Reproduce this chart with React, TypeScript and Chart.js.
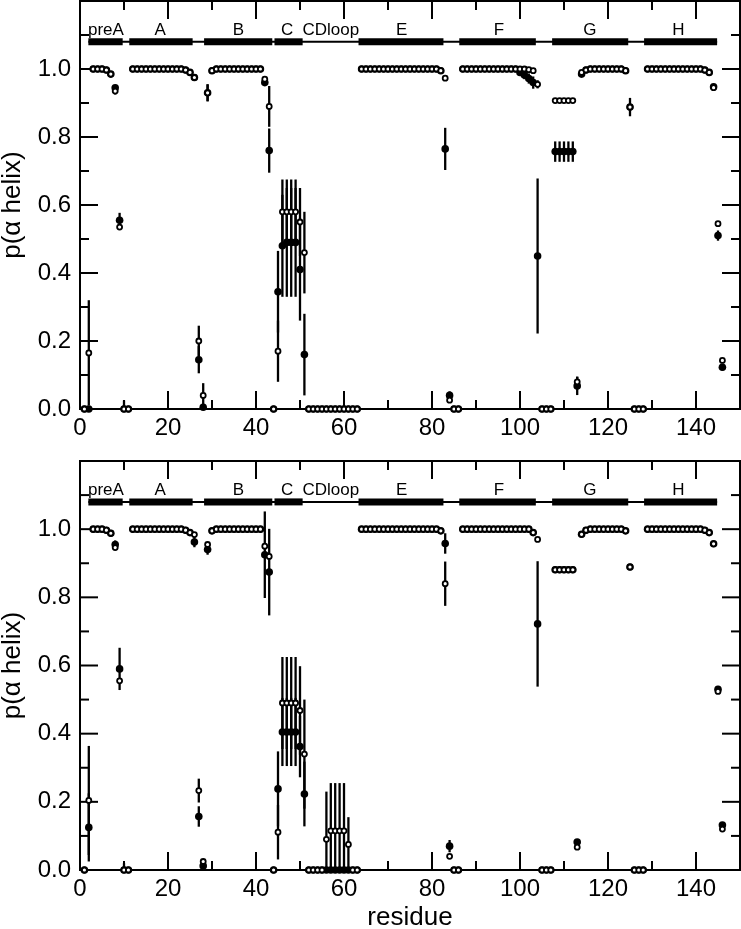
import { useEffect, useRef } from "react";
import { Chart, registerables } from "chart.js";

Chart.register(...registerables);

const FONT = "'Liberation Sans', Arial, Helvetica, sans-serif";

// residue numbers (categories)
const residues: number[] = Array.from({ length: 146 }, (_, i) => i + 1);

// ---------- top panel ----------
const topFilled: number[] = [
  0, 0, 1, 1, 1, 0.997, 0.985, 0.945, 0.555, 0,
  0, 1, 1, 1, 1, 1, 1, 1, 1, 1,
  1, 1, 1, 0.997, 0.99, 0.975, 0.145, 0.005, 0.93, 0.995,
  1, 1, 1, 1, 1, 1, 1, 1, 1, 1,
  1, 0.96, 0.76, 0, 0.345, 0.48, 0.49, 0.49, 0.49, 0.41,
  0.16, 0, 0, 0, 0, 0, 0, 0, 0, 0,
  0, 0, 0, 1, 1, 1, 1, 1, 1, 1,
  1, 1, 1, 1, 1, 1, 1, 1, 1, 1,
  1, 0.995, 0.765, 0.04, 0, 0, 1, 1, 1, 1,
  1, 1, 1, 1, 1, 1, 1, 1, 1, 0.99,
  0.982, 0.972, 0.96, 0.45, 0, 0, 0, 0.757, 0.757, 0.757,
  0.757, 0.757, 0.068, 0.985, 0.997, 1, 1, 1, 1, 1,
  1, 1, 1, 0.995, 0.888, 0, 0, 0, 1, 1,
  1, 1, 1, 1, 1, 1, 1, 1, 1, 1,
  1, 0.997, 0.99, 0.948, 0.51, 0.123,
];
const topOpen: number[] = [
  0, 0.165, 1, 1, 1, 0.997, 0.985, 0.935, 0.535, 0,
  0, 1, 1, 1, 1, 1, 1, 1, 1, 1,
  1, 1, 1, 0.997, 0.99, 0.975, 0.2, 0.04, 0.93, 0.995,
  1, 1, 1, 1, 1, 1, 1, 1, 1, 1,
  1, 0.97, 0.89, 0, 0.17, 0.58, 0.58, 0.58, 0.58, 0.55,
  0.46, 0, 0, 0, 0, 0, 0, 0, 0, 0,
  0, 0, 0, 1, 1, 1, 1, 1, 1, 1,
  1, 1, 1, 1, 1, 1, 1, 1, 1, 1,
  1, 0.995, 0.973, 0.026, 0, 0, 1, 1, 1, 1,
  1, 1, 1, 1, 1, 1, 1, 1, 1, 1,
  1, 0.998, 0.995, 0.955, 0, 0, 0, 0.907, 0.907, 0.907,
  0.907, 0.907, 0.08, 0.99, 0.997, 1, 1, 1, 1, 1,
  1, 1, 1, 0.995, 0.888, 0, 0, 0, 1, 1,
  1, 1, 1, 1, 1, 1, 1, 1, 1, 1,
  1, 0.997, 0.99, 0.945, 0.545, 0.143,
];
// [residue, error]
const topFilledErr: [number, number][] = [
  [9, 0.022], [10, 0.025], [27, 0.04], [29, 0.025], [43, 0.065], [45, 0.12],
  [46, 0.15], [47, 0.16], [48, 0.16], [49, 0.16], [50, 0.15], [51, 0.12],
  [83, 0.062], [84, 0.012], [100, 0.01], [101, 0.012], [102, 0.015], [103, 0.018],
  [104, 0.228], [108, 0.03], [109, 0.03], [110, 0.03], [111, 0.03], [112, 0.03],
  [113, 0.027], [145, 0.015], [146, 0.01],
];
const topOpenErr: [number, number][] = [
  [2, 0.155], [8, 0.01], [27, 0.045], [28, 0.036], [29, 0.025], [43, 0.06],
  [45, 0.09], [46, 0.095], [47, 0.095], [48, 0.095], [49, 0.095], [50, 0.1],
  [51, 0.12], [104, 0.012], [113, 0.015], [125, 0.027],
];

// ---------- bottom panel ----------
const botFilled: number[] = [
  0, 0.125, 1, 1, 1, 0.997, 0.988, 0.955, 0.59, 0,
  0, 1, 1, 1, 1, 1, 1, 1, 1, 1,
  1, 1, 1, 0.997, 0.99, 0.962, 0.157, 0.012, 0.94, 0.995,
  1, 1, 1, 1, 1, 1, 1, 1, 1, 1,
  1, 0.925, 0.874, 0, 0.238, 0.405, 0.405, 0.405, 0.405, 0.362,
  0.223, 0, 0, 0, 0, 0, 0, 0, 0, 0,
  0, 0, 0, 1, 1, 1, 1, 1, 1, 1,
  1, 1, 1, 1, 1, 1, 1, 1, 1, 1,
  1, 0.995, 0.958, 0.07, 0, 0, 1, 1, 1, 1,
  1, 1, 1, 1, 1, 1, 1, 1, 1, 1,
  1, 1, 0.99, 0.722, 0, 0, 0, 0.881, 0.881, 0.881,
  0.881, 0.881, 0.082, 0.985, 0.997, 1, 1, 1, 1, 1,
  1, 1, 1, 0.995, 0.889, 0, 0, 0, 1, 1,
  1, 1, 1, 1, 1, 1, 1, 1, 1, 1,
  1, 0.997, 0.99, 0.957, 0.53, 0.132,
];
const botOpen: number[] = [
  0, 0.204, 1, 1, 1, 0.997, 0.988, 0.946, 0.555, 0,
  0, 1, 1, 1, 1, 1, 1, 1, 1, 1,
  1, 1, 1, 0.997, 0.99, 0.984, 0.233, 0.025, 0.955, 0.995,
  1, 1, 1, 1, 1, 1, 1, 1, 1, 1,
  1, 0.95, 0.92, 0, 0.111, 0.49, 0.49, 0.49, 0.49, 0.468,
  0.34, 0, 0, 0, 0, 0.09, 0.115, 0.115, 0.115, 0.115,
  0.075, 0, 0, 1, 1, 1, 1, 1, 1, 1,
  1, 1, 1, 1, 1, 1, 1, 1, 1, 1,
  1, 0.995, 0.84, 0.04, 0, 0, 1, 1, 1, 1,
  1, 1, 1, 1, 1, 1, 1, 1, 1, 1,
  1, 1, 0.99, 0.97, 0, 0, 0, 0.881, 0.881, 0.881,
  0.881, 0.881, 0.067, 0.985, 0.997, 1, 1, 1, 1, 1,
  1, 1, 1, 0.995, 0.889, 0, 0, 0, 1, 1,
  1, 1, 1, 1, 1, 1, 1, 1, 1, 1,
  1, 0.997, 0.99, 0.957, 0.524, 0.12,
];
const botFilledErr: [number, number][] = [
  [2, 0.1], [8, 0.012], [9, 0.062], [10, 0.02], [26, 0.015], [27, 0.03], [29, 0.015],
  [42, 0.127], [43, 0.127], [45, 0.11], [46, 0.1], [47, 0.1], [48, 0.1], [49, 0.1],
  [50, 0.09], [51, 0.095], [83, 0.03], [84, 0.018], [104, 0.184], [145, 0.01],
];
const botOpenErr: [number, number][] = [
  [2, 0.16], [27, 0.035], [45, 0.08], [46, 0.135], [47, 0.135], [48, 0.135], [49, 0.135],
  [50, 0.13], [51, 0.16], [56, 0.14], [57, 0.14], [58, 0.14], [59, 0.14], [60, 0.14],
  [61, 0.08], [83, 0.065],
];

// secondary-structure segments [name, start, end] and label positions
const segments: [string, number, number][] = [
  ["preA", 1.9, 9.7], ["A", 11.2, 25.6], ["B", 28.2, 43.7], ["C", 44.2, 50.6],
  ["E", 63.3, 82.6], ["F", 86.2, 103.6], ["G", 107.3, 124.6], ["H", 128.2, 144.8],
];
const segmentLabels: [string, number][] = [
  ["preA", 5.9], ["A", 18.2], ["B", 36], ["C", 47.1], ["CDloop", 57],
  ["E", 73.1], ["F", 95.2], ["G", 115.9], ["H", 136],
];
const SEG_Y = 1.08;
const SEG_LABEL_Y = 1.1;
const X_MIN = 0, X_MAX = 150, X_STEP = 20, X_MINOR = 10;
const Y_MIN = 0, Y_MAX = 1.2, Y_STEP = 0.2, Y_MINOR = 0.1;

const decorPlugin = {
  id: "decor",
  beforeDatasetsDraw(chart: any) {
    const { ctx, chartArea: a, scales } = chart;
    const x = scales.x, y = scales.y;
    const line = (x1: number, y1: number, x2: number, y2: number) => {
      ctx.beginPath(); ctx.moveTo(x1, y1); ctx.lineTo(x2, y2); ctx.stroke();
    };
    ctx.save();
    ctx.strokeStyle = "#000";
    ctx.lineWidth = 2;
    ctx.lineCap = "butt";
    ctx.strokeRect(a.left, a.top, a.right - a.left, a.bottom - a.top);
    for (let k = 0; k * X_MINOR <= X_MAX; k++) {
      const v = k * X_MINOR;
      const px = x.getPixelForValue(v);
      const len = v % X_STEP === 0 ? 18 : 9;
      line(px, a.bottom, px, a.bottom - len);
      line(px, a.top, px, a.top + len);
    }
    for (let k = 0; k * Y_MINOR <= Y_MAX + 1e-9; k++) {
      const v = k * Y_MINOR;
      const py = y.getPixelForValue(v);
      const len = k % Math.round(Y_STEP / Y_MINOR) === 0 ? 18 : 9;
      line(a.left, py, a.left + len, py);
      line(a.right, py, a.right - len, py);
    }
    // error bars
    ctx.lineWidth = 2.3;
    chart.data.datasets.forEach((ds: any) => {
      if (!ds.errors) return;
      for (const [r, e] of ds.errors as [number, number][]) {
        const pt = ds.data[r - 1];
        const px = x.getPixelForValue(pt.x);
        const y1 = y.getPixelForValue(Math.max(Y_MIN, pt.y - e));
        const y2 = y.getPixelForValue(Math.min(Y_MAX, pt.y + e));
        line(px, y1, px, y2);
      }
    });
    ctx.restore();
  },
  afterDraw(chart: any) {
    const { ctx, scales } = chart;
    ctx.save();
    ctx.fillStyle = "#000";
    ctx.font = `17px ${FONT}`;
    ctx.textAlign = "center";
    ctx.textBaseline = "alphabetic";
    const py = scales.y.getPixelForValue(SEG_LABEL_Y);
    for (const [name, pos] of segmentLabels) {
      ctx.fillText(name, scales.x.getPixelForValue(pos), py);
    }
    ctx.restore();
  },
};

function buildConfig(
  filled: number[], open: number[],
  filledErr: [number, number][], openErr: [number, number][],
  padTop: number, xHeight: number, showTitle: boolean,
): any {
  const openData = residues.map((r, i) => ({ x: r, y: open[i] }));
  const filledData = residues.map((r, i) => ({ x: r, y: filled[i] }));
  const segDatasets = segments.map(([name, s, e]) => ({
    label: name,
    data: [{ x: s, y: SEG_Y }, { x: e, y: SEG_Y }],
    showLine: true,
    borderColor: "#000",
    borderWidth: 7,
    pointRadius: 0,
    order: 3,
  }));
  return {
    type: "scatter",
    data: {
      datasets: [
        {
          label: "open",
          data: openData,
          errors: openErr,
          pointRadius: 2.5,
          pointBorderWidth: 1.8,
          pointBackgroundColor: "#fff",
          pointBorderColor: "#000",
          clip: false,
          order: 0,
        },
        {
          label: "filled",
          data: filledData,
          errors: filledErr,
          pointRadius: 3.8,
          pointBorderWidth: 0,
          pointBackgroundColor: "#000",
          pointBorderColor: "#000",
          clip: false,
          order: 1,
        },
        {
          label: "backbone",
          data: [{ x: segments[0][1], y: SEG_Y }, { x: segments[segments.length - 1][2], y: SEG_Y }],
          showLine: true,
          borderColor: "#000",
          borderWidth: 2,
          pointRadius: 0,
          order: 4,
        },
        ...segDatasets,
      ],
    },
    options: {
      responsive: false,
      animation: false,
      events: [],
      layout: { autoPadding: false, padding: { left: 0, right: 1, top: padTop, bottom: 0 } },
      plugins: { legend: { display: false }, tooltip: { enabled: false } },
      scales: {
        x: {
          type: "linear",
          min: X_MIN,
          max: X_MAX,
          grid: { display: false, drawTicks: false },
          border: { display: false },
          ticks: {
            stepSize: X_STEP,
            includeBounds: false,
            padding: 5,
            color: "#000",
            font: { family: FONT, size: 24 },
            maxRotation: 0,
            callback: (v: any) => String(Math.round(Number(v))),
          },
          title: {
            display: showTitle,
            text: "residue",
            color: "#000",
            font: { family: FONT, size: 26, lineHeight: 0.85 },
            padding: 0,
          },
          afterFit: (s: any) => {
            s.height = xHeight;
            s.paddingLeft = 0; s.paddingRight = 0; s.paddingTop = 0; s.paddingBottom = 0;
          },
        },
        y: {
          type: "linear",
          min: Y_MIN,
          max: Y_MAX,
          grid: { display: false, drawTicks: false },
          border: { display: false },
          ticks: {
            stepSize: Y_STEP,
            includeBounds: false,
            padding: 9,
            color: "#000",
            font: { family: FONT, size: 24 },
            callback: (v: any) => (Number(v) > 1.05 ? "" : Number(v).toFixed(1)),
          },
          title: {
            display: true,
            text: "p(α helix)",
            color: "#000",
            font: { family: FONT, size: 26, lineHeight: 1.0 },
            padding: 0,
          },
          afterFit: (s: any) => {
            s.width = 80;
            s.paddingLeft = 0; s.paddingRight = 0; s.paddingTop = 0; s.paddingBottom = 0;
          },
        },
      },
    },
    plugins: [decorPlugin],
  };
}

function Panel(props: {
  filled: number[]; open: number[];
  filledErr: [number, number][]; openErr: [number, number][];
  height: number; padTop: number; xHeight: number; showTitle: boolean;
}) {
  const ref = useRef<HTMLCanvasElement>(null);
  useEffect(() => {
    if (!ref.current) return;
    const chart = new Chart(
      ref.current,
      buildConfig(props.filled, props.open, props.filledErr, props.openErr,
        props.padTop, props.xHeight, props.showTitle),
    );
    return () => chart.destroy();
  }, []);
  return (
    <canvas ref={ref} width={741} height={props.height}
      style={{ display: "block", width: 741, height: props.height }} />
  );
}

export default function App() {
  return (
    <div style={{ position: "absolute", left: 0, top: 0, width: 741, height: 929, background: "#fff" }}>
      <Panel filled={topFilled} open={topOpen} filledErr={topFilledErr} openErr={topOpenErr}
        height={455} padTop={1} xHeight={46} showTitle={false} />
      <Panel filled={botFilled} open={botOpen} filledErr={botFilledErr} openErr={botOpenErr}
        height={474} padTop={6} xHeight={59} showTitle={true} />
    </div>
  );
}
